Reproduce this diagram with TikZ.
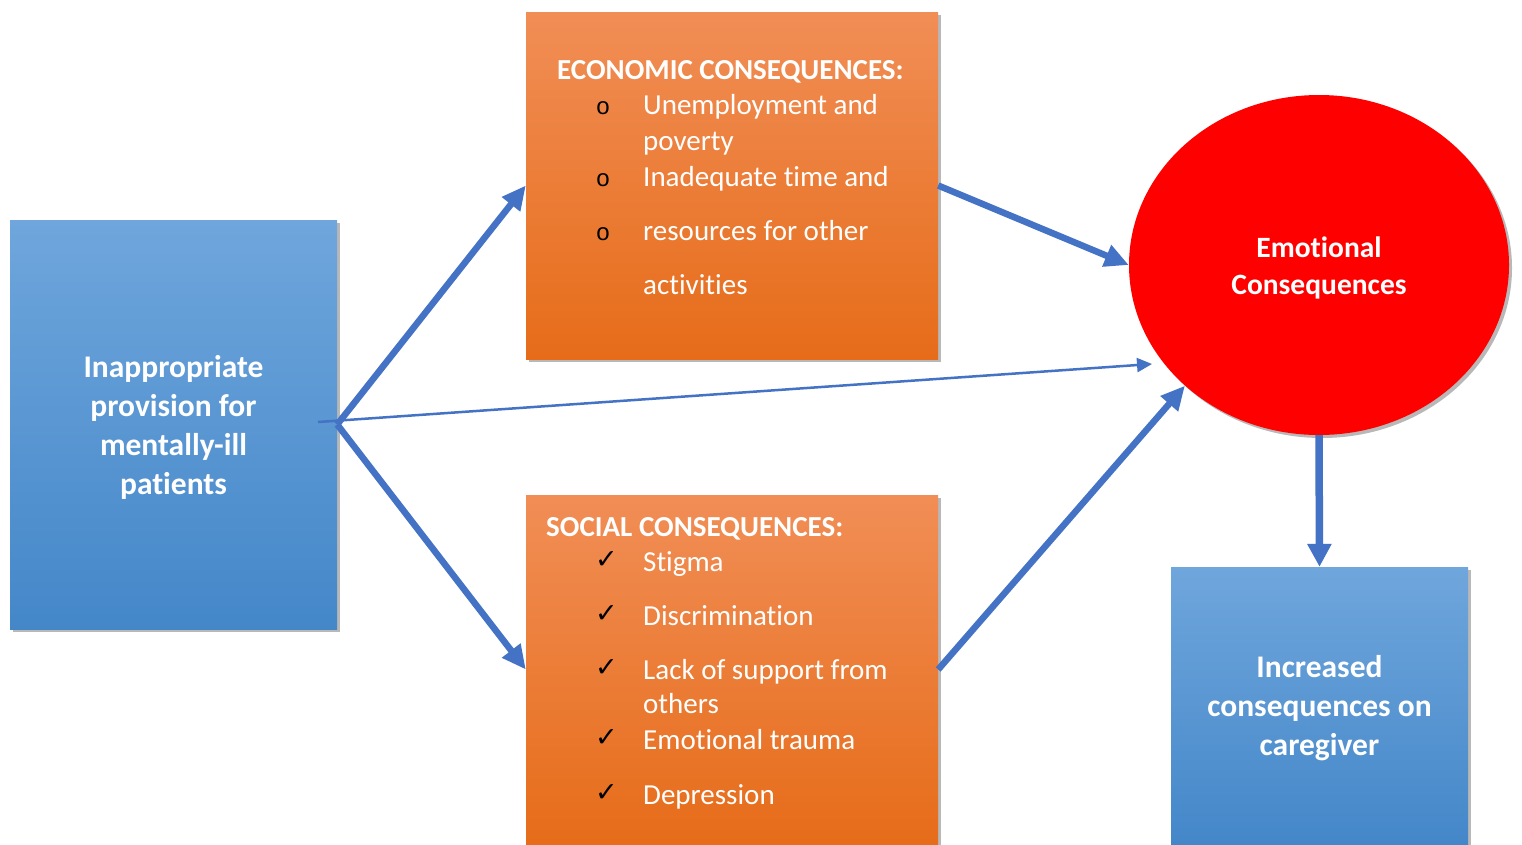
\documentclass[tikz,border=0pt]{standalone}
\usepackage{fontspec}
\setmainfont{Carlito}[Ligatures={NoCommon}]
\newfontfamily\dejavu{DejaVu Sans}
\newfontfamily\monofnt{Liberation Mono}
\usetikzlibrary{shapes.geometric,shadows,arrows.meta}
\definecolor{arrowblue}{HTML}{4472C4}
\definecolor{bluetop}{HTML}{6FA6DC}
\definecolor{bluebot}{HTML}{4487C9}
\definecolor{orangetop}{HTML}{F18E56}
\definecolor{orangebot}{HTML}{E66C19}
\begin{document}
\begin{tikzpicture}[x=1pt,y=-1pt,
  shadowed/.style={drop shadow={opacity=0.28,shadow xshift=3pt,shadow yshift=-3pt,fill=black}},
  bluebox/.style={rectangle,draw=none,top color=bluetop,bottom color=bluebot,shadowed,inner sep=0pt},
  bigtext/.style={text=white,font=\fontsize{31.5}{39}\selectfont\bfseries,align=center,inner sep=0pt},
  orangebox/.style={rectangle,draw=none,top color=orangetop,bottom color=orangebot,shadowed,inner sep=0pt},
  redcircle/.style={ellipse,draw=none,fill=red,shadowed,inner sep=0pt},
  circtext/.style={text=white,font=\fontsize{29.5}{37}\selectfont\bfseries,align=center,inner sep=0pt},
  heading/.style={anchor=base west,inner sep=0pt,text=white,font=\fontsize{29}{35}\selectfont\bfseries},
  item/.style={anchor=base west,inner sep=0pt,text=white,font=\fontsize{29}{35}\selectfont},
  bulletmark/.style={anchor=base,inner sep=0pt,text=black,font=\monofnt\fontsize{24}{30}\selectfont},
  checkmark/.style={anchor=base west,inner sep=0pt,text=black,font=\dejavu\fontsize{27}{32}\selectfont},
  thickarrow/.style={draw=arrowblue,line width=6.5pt,-{Triangle[length=24pt,width=22pt]}},
  thinarrow/.style={draw=arrowblue,line width=2.5pt,-{Triangle[length=15pt,width=14pt]}},
  downarrow/.style={draw=arrowblue,line width=7.5pt,-{Triangle[length=23pt,width=23pt]}}
]
\useasboundingbox[fill=white] (0,0) rectangle (1522,844);

% boxes
\node[bluebox,minimum width=327pt,minimum height=409pt] (L) at (173.5,424.5) {};
\node[bigtext,yshift=-3pt] (Lt) at (L.center) {Inappropriate\\provision for\\mentally-ill\\patients};
\node[orangebox,minimum width=412pt,minimum height=347pt] (Eco) at (732,185.5) {};
\node[orangebox,minimum width=412pt,minimum height=349pt] (Soc) at (732,669.5) {};
\node[redcircle,minimum width=380pt,minimum height=340pt] (E) at (1319,265) {};
\node[circtext,yshift=-3pt] (Et) at (E.center) {Emotional\\Consequences};
\node[bluebox,minimum width=297pt,minimum height=277pt] (R) at (1319.5,705.5) {};
\node[bigtext,yshift=-3pt] (Rt) at (R.center) {Increased\\consequences on\\caregiver};

% economic text
\node[heading] (eh) at (557,79) {ECONOMIC CONSEQUENCES:};
\node[bulletmark] (eb1) at (603,114) {o};
\node[item] (e1) at (643,114) {Unemployment and};
\node[item] (e2) at (643,150) {poverty};
\node[bulletmark] (eb2) at (603,186) {o};
\node[item] (e3) at (643,186) {Inadequate time and};
\node[bulletmark] (eb3) at (603,240) {o};
\node[item] (e4) at (643,240) {resources for other};
\node[item] (e5) at (643,294) {activities};

% social text
\node[heading] (sh) at (546,536) {SOCIAL CONSEQUENCES:};
\node[checkmark] (sc1) at (595,568) {✓};
\node[item] (s1) at (643,571) {Stigma};
\node[checkmark] (sc2) at (595,622) {✓};
\node[item] (s2) at (643,625) {Discrimination};
\node[checkmark] (sc3) at (595,676) {✓};
\node[item] (s3) at (643,679) {Lack of support from};
\node[item] (s4) at (643,713) {others};
\node[checkmark] (sc4) at (595,746) {✓};
\node[item] (s5) at (643,749) {Emotional trauma};
\node[checkmark] (sc5) at (595,801) {✓};
\node[item] (s6) at (643,804) {Depression};

% connectors
\coordinate (ts) at (318,422);
\coordinate (te) at (1152,364);
\draw[thickarrow] (L.east) -- (Eco.west);
\draw[thickarrow] (L.east) -- (Soc.west);
\draw[thinarrow] (ts) -- (te);
\draw[thickarrow] (Eco.east) -- (E.west);
\draw[thickarrow] (Soc.east) -- (E.222);
\draw[downarrow] (E.south) -- (R.north);
\end{tikzpicture}
\end{document}
